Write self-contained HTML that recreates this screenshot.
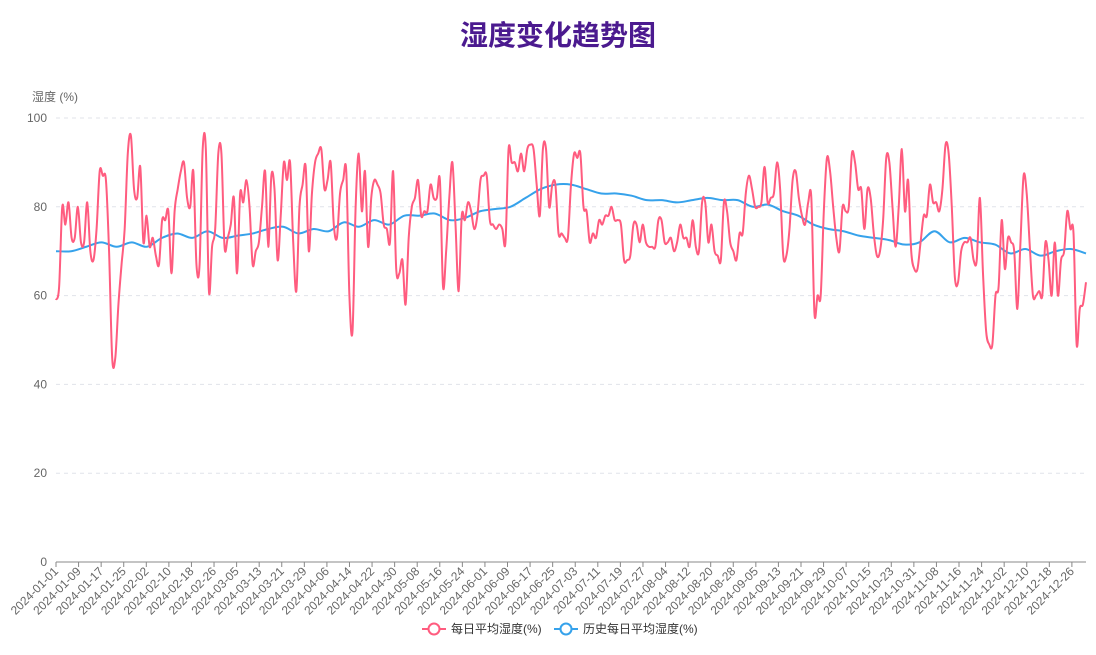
<!DOCTYPE html>
<html><head><meta charset="utf-8"><style>
body{margin:0;background:#fff;font-family:"Liberation Sans","Noto Sans CJK SC",sans-serif}
svg text{font-family:"Liberation Sans","Noto Sans CJK SC",sans-serif}
</style></head><body>
<svg id="c" width="1096" height="650" xmlns="http://www.w3.org/2000/svg">
<text x="558" y="45" text-anchor="middle" font-size="28" font-weight="bold" fill="#4b1a8f">湿度变化趋势图</text>
<text x="32" y="101" font-size="12" fill="#666">湿度 (%)</text>
<g id="grid"></g><g id="xaxis"></g><g id="series"></g>
<g>
<g>
<line x1="422" y1="629" x2="446" y2="629" stroke="#ff5c7f" stroke-width="2"/><circle cx="434" cy="629" r="5.5" fill="#fff" stroke="#ff5c7f" stroke-width="2"/>
<text x="451" y="633" font-size="12" fill="#333">每日平均湿度(%)</text></g>
<g>
<line x1="554" y1="629" x2="578" y2="629" stroke="#36a2eb" stroke-width="2"/><circle cx="566" cy="629" r="5.5" fill="#fff" stroke="#36a2eb" stroke-width="2"/>
<text x="583" y="633" font-size="12" fill="#333">历史每日平均湿度(%)</text></g>
</g>
</svg>
<script>
const yTicks=[0,20,40,60,80,100];
const daily=[59,62,80,76,81,73,73,80,72,72,81,70,68,75,88,87,86,70,46,46,58,67,75,92,96,84,82,89,72,78,71,73,69,67,77,77,79,65,79,84,88,90,82,80,88,67,67,93,93,61,71,75,92,92,71,73,76,82,65,83,81,86,80,67,70,72,80,88,71,87,84,68,78,90,86,90,72,61,80,85,89,70,83,90,92,93,84,86,90,76,73,83,86,88,60,52,80,92,79,88,71,82,86,85,83,76,75,72,88,66,65,68,58,73,80,82,86,78,79,79,85,82,82,86,62,70,82,90,76,61,78,77,81,79,75,78,86,87,87,77,76,75,76,75,72,93,90,90,88,92,88,93,94,93,85,78,93,93,80,85,85,74,74,73,73,85,92,91,92,80,79,72,74,73,77,76,78,78,80,77,77,76,68,68,69,76,76,72,76,72,71,71,71,77,77,72,72,73,70,72,76,73,73,71,77,71,70,81,81,72,76,70,69,68,81,79,72,70,68,74,74,83,87,84,80,80,81,89,81,82,83,90,84,69,69,75,86,88,82,78,76,81,82,56,60,60,79,91,88,80,73,70,80,79,80,92,90,84,84,75,84,82,74,69,70,77,91,90,80,71,80,93,79,86,70,66,66,72,78,78,85,81,81,79,84,94,92,80,64,63,70,72,72,73,68,68,82,65,52,49,49,60,62,77,66,73,72,70,57,72,87,83,71,60,60,61,60,72,68,60,72,60,68,70,79,75,74,49,57,58,63];
const historical=[70,70,71,72,71,72,71,73,74,73,74.5,73,73.5,74,75,75.5,74,75,74.5,76.5,75.5,77,76,78,78,78.5,77,77.5,79,79.5,80,82,84,85,85,84,83,83,82.5,81.5,81.5,81,81.5,82,81.5,81.5,80,80.5,79,78,76,75,74.5,73.5,73,72.5,71.5,72,74.5,72,73,72,71.5,69.5,70.5,69,70,70.5,69.5];
const L=56,R=1086,T=118,B=562;
const days=366;
const ys=v=>B-(v/100)*(B-T);
const xd=d=>L+d*(R-L)/(days-1);
const svg=document.getElementById('c');
const NS='http://www.w3.org/2000/svg';
const grid=document.getElementById('grid');
yTicks.forEach(t=>{
 const y=ys(t);
 if(t>0){const ln=document.createElementNS(NS,'line');
 ln.setAttribute('x1',L);ln.setAttribute('x2',R);ln.setAttribute('y1',y);ln.setAttribute('y2',y);
 ln.setAttribute('stroke','#e0e3ea');ln.setAttribute('stroke-dasharray','4,4');
 
 
 grid.appendChild(ln);}
 const tx=document.createElementNS(NS,'text');
 tx.setAttribute('x',47);tx.setAttribute('y',y+4);tx.setAttribute('text-anchor','end');
 tx.setAttribute('font-size','12');tx.setAttribute('fill','#666');tx.textContent=t;
 
 
 grid.appendChild(tx);
});
const xa=document.getElementById('xaxis');
const ax=document.createElementNS(NS,'line');
ax.setAttribute('x1',L);ax.setAttribute('x2',R);ax.setAttribute('y1',B);ax.setAttribute('y2',B);ax.setAttribute('stroke','#888');


xa.appendChild(ax);
const start=Date.UTC(2024,0,1);
for(let d=0;d<days;d+=8){
 const dt=new Date(start+d*86400000);
 const s=dt.getUTCFullYear()+'-'+String(dt.getUTCMonth()+1).padStart(2,'0')+'-'+String(dt.getUTCDate()).padStart(2,'0');
 const x=xd(d);
 const tk=document.createElementNS(NS,'line');
 tk.setAttribute('x1',x);tk.setAttribute('x2',x);tk.setAttribute('y1',B);tk.setAttribute('y2',B+5);tk.setAttribute('stroke','#888');
 
 
 xa.appendChild(tk);
 const tx=document.createElementNS(NS,'text');
 tx.setAttribute('transform',`translate(${x+3},${B+10}) rotate(-45)`);
 tx.setAttribute('text-anchor','end');tx.setAttribute('font-size','12');tx.setAttribute('fill','#666');
 tx.textContent=s;
 
 
 xa.appendChild(tx);
}
function path(vals,color,name,w){
 const n=vals.length;
 const pts=vals.map((v,i)=>[L+i*(R-L)/(n-1),ys(v)]);
 let d=`M${pts[0][0]},${pts[0][1]}`;
 for(let i=0;i<n-1;i++){
  const p0=pts[Math.max(0,i-1)],p1=pts[i],p2=pts[i+1],p3=pts[Math.min(n-1,i+2)];
  const c1=[p1[0]+(p2[0]-p0[0])/6,p1[1]+(p2[1]-p0[1])/6];
  const c2=[p2[0]-(p3[0]-p1[0])/6,p2[1]-(p3[1]-p1[1])/6];
  d+=`C${c1[0]},${c1[1]} ${c2[0]},${c2[1]} ${p2[0]},${p2[1]}`;
 }
 const p=document.createElementNS(NS,'path');
 p.setAttribute('d',d);p.setAttribute('fill','none');p.setAttribute('stroke',color);p.setAttribute('stroke-width',w);
 
 
 document.getElementById('series').appendChild(p);
}
path(historical,'#36a2eb','historical-humidity-line',2);
path(daily,'#ff5c7f','daily-humidity-line',2);
</script>
</body></html>
